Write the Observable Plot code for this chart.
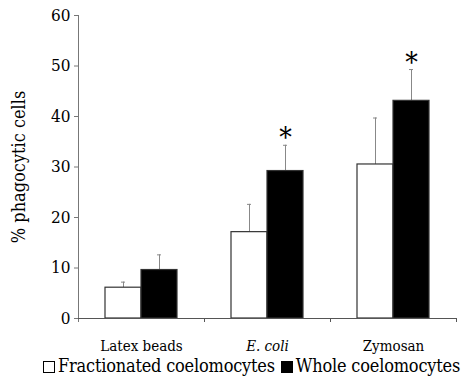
<!DOCTYPE html>
<html>
<head>
<meta charset="utf-8">
<script src="https://cdn.jsdelivr.net/npm/d3@7"></script>
<script src="https://cdn.jsdelivr.net/npm/@observablehq/plot@0.6"></script>
<style>
  html, body { margin: 0; padding: 0; background: #fff; }
  #chart svg { display: block; }
  #chart svg, #chart svg text {
    font-family: "DejaVu Serif Condensed", "DejaVu Serif", serif !important;
    font-stretch: condensed;
  }
  .legend {
    font-family: "DejaVu Serif Condensed", "DejaVu Serif", serif;
    font-stretch: condensed;
    font-size: 18px; line-height: 16px; color: #000; letter-spacing: -0.2px;
    padding-left: 43px; white-space: nowrap; height: 20px;
  }
  .legend .sw {
    display: inline-block; width: 10px; height: 10px;
    border: 1.5px solid #000; margin-right: 3px; vertical-align: -1px;
  }
  .legend .item + .item { margin-left: 6px; }
</style>
</head>
<body>
<div id="chart"></div>
<script>
// Phagocytosis by earthworm coelomocytes, mean ± SE
const categories = ["Latex beads", "E. coli", "Zymosan"];
const series = ["Fractionated coelomocytes", "Whole coelomocytes"];
const fractionated = [6.1, 17.1, 30.5];
const fractionatedErr = [1.1, 5.5, 9.2];
const whole = [9.6, 29.2, 43.1];
const wholeErr = [3.0, 5.1, 6.2];
const significant = [false, true, true];
const yTicks = [0, 10, 20, 30, 40, 50, 60];
const yLabel = "% phagocytic cells";

const rows = categories.flatMap((c, i) => [
  {category: c, series: series[0], value: fractionated[i], err: fractionatedErr[i], sig: false},
  {category: c, series: series[1], value: whole[i], err: wholeErr[i], sig: significant[i]}
]);

const width = 468, height = 358;
const marginLeft = 78, marginRight = 12;
const halfBand = (width - marginLeft - marginRight) / categories.length / 2;
const serif = '"DejaVu Serif Condensed", "DejaVu Serif", serif';

const chart = Plot.plot({
  width, height,
  marginLeft, marginRight, marginTop: 15, marginBottom: 40,
  style: {fontFamily: serif, fontSize: "17px", color: "#000", background: "#fff"},
  fx: {domain: categories, padding: 0, label: null},
  x: {domain: series, paddingInner: 0, paddingOuter: 0.75, axis: null},
  y: {domain: [0, 60], label: null},
  color: {domain: series, range: ["#fff", "#000"]},
  marks: [
    Plot.axisY({ticks: yTicks, tickSize: 4, tickPadding: 4, stroke: "#777", fontSize: 17, label: null}),
    Plot.frame({anchor: "left", stroke: "#777", facetAnchor: "left"}),
    Plot.axisY({ticks: [], label: yLabel, labelArrow: "none", labelAnchor: "center", labelOffset: 66, fontSize: 18, tickSize: 0}),
    // category labels (E. coli set in italics)
    Plot.axisFx({anchor: "bottom", ticks: ["Latex beads", "Zymosan"], tickSize: 0, tickPadding: 22, fontSize: 15, label: null}),
    Plot.axisFx({anchor: "bottom", ticks: ["E. coli"], tickSize: 0, tickPadding: 22, fontSize: 15, fontStyle: "italic", label: null}),
    // tick marks on category boundaries
    Plot.axisFx({anchor: "bottom", tickSize: 4, text: null, stroke: "#555", dx: halfBand, label: null}),
    Plot.axisFx({anchor: "bottom", ticks: [categories[0]], tickSize: 4, text: null, stroke: "#777", dx: -halfBand, label: null}),
    Plot.ruleX(rows, {fx: "category", x: "series", y1: "value", y2: d => d.value + d.err, stroke: "#888", strokeWidth: 1}),
    Plot.tickY(rows, {fx: "category", x: "series", y: d => d.value + d.err, stroke: "#888", insetLeft: 16, insetRight: 16}),
    Plot.barY(rows, {fx: "category", x: "series", y: "value", fill: "series", stroke: "#333", strokeWidth: 1.2}),
    Plot.ruleY([0], {stroke: "#555"}),
    Plot.text(rows.filter(d => d.sig), {fx: "category", x: "series", y: d => d.value + d.err, text: () => "*", fontSize: 28, lineAnchor: "middle", dy: -7})
  ]
});

document.getElementById("chart").append(chart);

const legend = document.createElement("div");
legend.className = "legend";
legend.innerHTML = series.map((s, i) =>
  `<span class="item"><span class="sw" style="background:${i ? "#000" : "#fff"}"></span>${s}</span>`
).join("");
document.body.append(legend);
</script>
</body>
</html>
